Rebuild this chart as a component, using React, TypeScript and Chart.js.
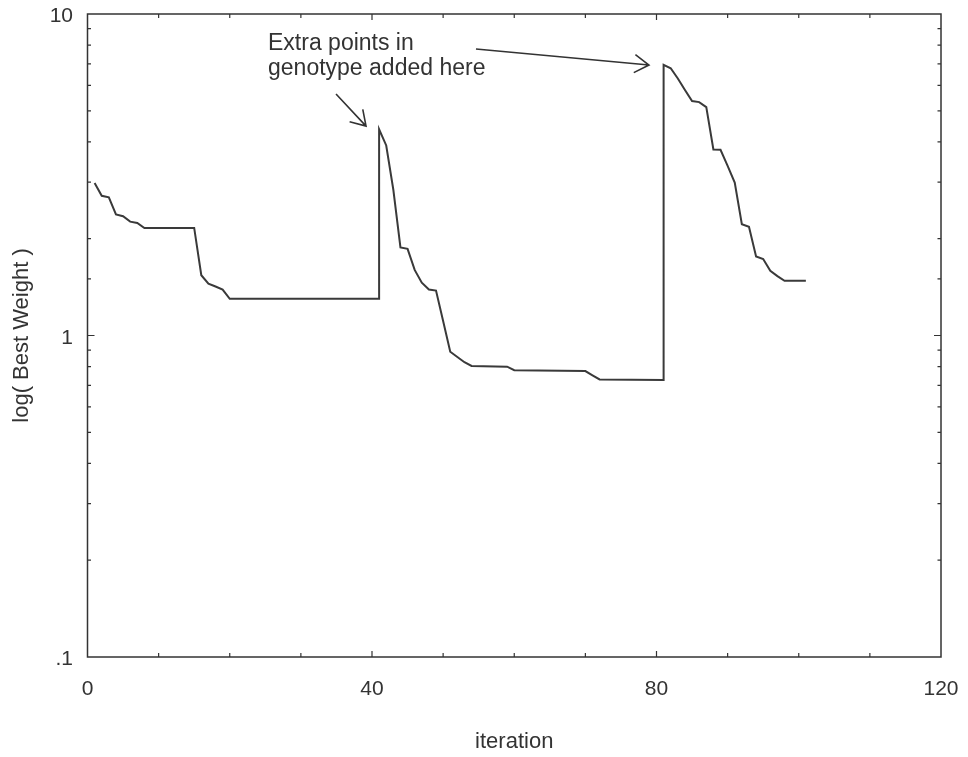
import React, { useEffect, useRef } from "react";
import { Chart, registerables } from "chart.js";

Chart.register(...registerables);

// ---- data ----
const iterations = [
  1, 2, 3, 4, 5, 6, 7, 8, 15, 16, 17, 18, 19, 20, 41, 41, 42, 43, 44, 45, 46, 47,
  48, 49, 50, 51, 52, 53, 54, 59, 60, 70, 71, 72, 81, 81, 82, 83, 84, 85, 86, 87,
  88, 89, 90, 91, 92, 93, 94, 95, 96, 97, 98, 101,
];
const bestWeight = [
  2.98, 2.72, 2.69, 2.38, 2.35, 2.26, 2.24, 2.16, 2.16, 1.54, 1.45, 1.42, 1.39, 1.3,
  1.3, 4.38, 3.9, 2.84, 1.88, 1.86, 1.6, 1.46, 1.39, 1.38, 1.11, 0.89, 0.857, 0.826,
  0.804, 0.8, 0.78, 0.775, 0.752, 0.73, 0.727, 6.95, 6.78, 6.3, 5.8, 5.36, 5.32, 5.13,
  3.79, 3.78, 3.37, 2.99, 2.22, 2.18, 1.76, 1.73, 1.59, 1.53, 1.48, 1.48,
];
const xTickLabelValues = [0, 40, 80, 120];
const yTickLabelValues = [0.1, 1, 10];
const yTickLabelTexts = [".1", "1", "10"];
const xTitle = "iteration";
const yTitle = "log( Best Weight )";
const noteLines = ["Extra points in", "genotype added here"];

// annotation anchors in data coordinates
const noteAnchor = { x: 25.38, y1: 7.73, y2: 6.46 };
const arrows = [
  { x0: 34.94, y0: 5.64, x1: 39.16, y1: 4.48 },
  { x0: 54.62, y0: 7.78, x1: 78.94, y1: 6.94 },
];

const INK = "#333333";
const FONT = '"Liberation Sans", Arial, Helvetica, sans-serif';

const framePlugin = {
  id: "frameAndNotes",
  afterDraw(chart: any) {
    const { ctx, chartArea: a, scales } = chart;
    const xs = scales.x;
    const ys = scales.y;
    ctx.save();
    ctx.strokeStyle = INK;
    ctx.lineWidth = 1.5;
    ctx.strokeRect(a.left, a.top, a.right - a.left, a.bottom - a.top);

    ctx.lineWidth = 1.2;
    ctx.beginPath();
    for (const t of xs.ticks) {
      const v = t.value;
      if (v <= 0 || v >= 120) continue;
      const px = xs.getPixelForValue(v);
      const len = v % 40 === 0 ? 6 : 4;
      ctx.moveTo(px, a.bottom);
      ctx.lineTo(px, a.bottom - len);
      ctx.moveTo(px, a.top);
      ctx.lineTo(px, a.top + len);
    }
    for (const t of ys.ticks) {
      const v = t.value;
      if (v <= 0.1 + 1e-9 || v >= 10 - 1e-9) continue;
      const py = ys.getPixelForValue(v);
      const len = Math.abs(v - 1) < 1e-9 ? 7 : 3.5;
      ctx.moveTo(a.left, py);
      ctx.lineTo(a.left + len, py);
      ctx.moveTo(a.right, py);
      ctx.lineTo(a.right - len, py);
    }
    ctx.stroke();

    // annotation text
    ctx.fillStyle = INK;
    ctx.font = `23px ${FONT}`;
    ctx.textBaseline = "alphabetic";
    ctx.textAlign = "left";
    const tx = xs.getPixelForValue(noteAnchor.x);
    ctx.fillText(noteLines[0], tx, ys.getPixelForValue(noteAnchor.y1));
    ctx.fillText(noteLines[1], tx, ys.getPixelForValue(noteAnchor.y2));

    // arrows
    ctx.lineWidth = 1.6;
    for (const ar of arrows) {
      const x0 = xs.getPixelForValue(ar.x0);
      const y0 = ys.getPixelForValue(ar.y0);
      const x1 = xs.getPixelForValue(ar.x1);
      const y1 = ys.getPixelForValue(ar.y1);
      const ang = Math.atan2(y1 - y0, x1 - x0);
      const hl = 17;
      const spread = (32 * Math.PI) / 180;
      ctx.beginPath();
      ctx.moveTo(x0, y0);
      ctx.lineTo(x1, y1);
      ctx.moveTo(x1 - hl * Math.cos(ang - spread), y1 - hl * Math.sin(ang - spread));
      ctx.lineTo(x1, y1);
      ctx.lineTo(x1 - hl * Math.cos(ang + spread), y1 - hl * Math.sin(ang + spread));
      ctx.stroke();
    }
    ctx.restore();
  },
};

const zeroPad = (s: any) => {
  s.paddingTop = 0;
  s.paddingBottom = 0;
  s.paddingLeft = 0;
  s.paddingRight = 0;
};

export default function App() {
  const ref = useRef<HTMLCanvasElement | null>(null);

  useEffect(() => {
    document.body.style.margin = "0";
    document.body.style.background = "#ffffff";
    const canvas = ref.current;
    if (!canvas) return;
    const points = iterations.map((x, i) => ({ x, y: bestWeight[i] }));
    const chart = new Chart(canvas, {
      type: "line",
      data: {
        datasets: [
          {
            data: points,
            borderColor: "#3a3a3a",
            borderWidth: 2,
            pointRadius: 0,
            tension: 0,
            fill: false,
          },
        ],
      },
      options: {
        responsive: false,
        animation: false,
        devicePixelRatio: 1,
        layout: { padding: { top: 14, right: 27, bottom: 0, left: 0 } },
        plugins: { legend: { display: false }, tooltip: { enabled: false } },
        scales: {
          x: {
            type: "linear",
            min: 0,
            max: 120,
            afterFit: (s: any) => {
              s.height = 100;
              zeroPad(s);
            },
            grid: { display: false, drawTicks: false },
            border: { display: false },
            ticks: {
              stepSize: 10,
              autoSkip: false,
              maxRotation: 0,
              padding: 20,
              color: INK,
              font: { family: FONT, size: 21 },
              callback: (v: any) => {
                const n = Number(v);
                return xTickLabelValues.includes(n) ? String(n) : "";
              },
            },
            title: {
              display: true,
              text: xTitle,
              color: INK,
              font: { family: FONT, size: 22 },
              padding: { top: 0, bottom: 2 },
            },
          },
          y: {
            type: "logarithmic",
            min: 0.1,
            max: 10,
            afterFit: (s: any) => {
              s.width = 87.5;
              zeroPad(s);
            },
            grid: { display: false, drawTicks: false },
            border: { display: false },
            ticks: {
              autoSkip: false,
              padding: 14.5,
              labelOffset: 2.5,
              color: INK,
              font: { family: FONT, size: 21 },
              callback: (v: any) => {
                const n = Number(v);
                for (let i = 0; i < yTickLabelValues.length; i++) {
                  if (Math.abs(n - yTickLabelValues[i]) < 1e-9) return yTickLabelTexts[i];
                }
                return "";
              },
            },
            title: {
              display: true,
              text: yTitle,
              color: INK,
              font: { family: FONT, size: 22 },
              padding: { top: 8.5, bottom: 0 },
            },
          },
        },
      },
      plugins: [framePlugin],
    } as any);
    return () => chart.destroy();
  }, []);

  return (
    <div style={{ width: 968, height: 757, background: "#fff" }}>
      <canvas ref={ref} width={968} height={757} style={{ display: "block" }} />
    </div>
  );
}
